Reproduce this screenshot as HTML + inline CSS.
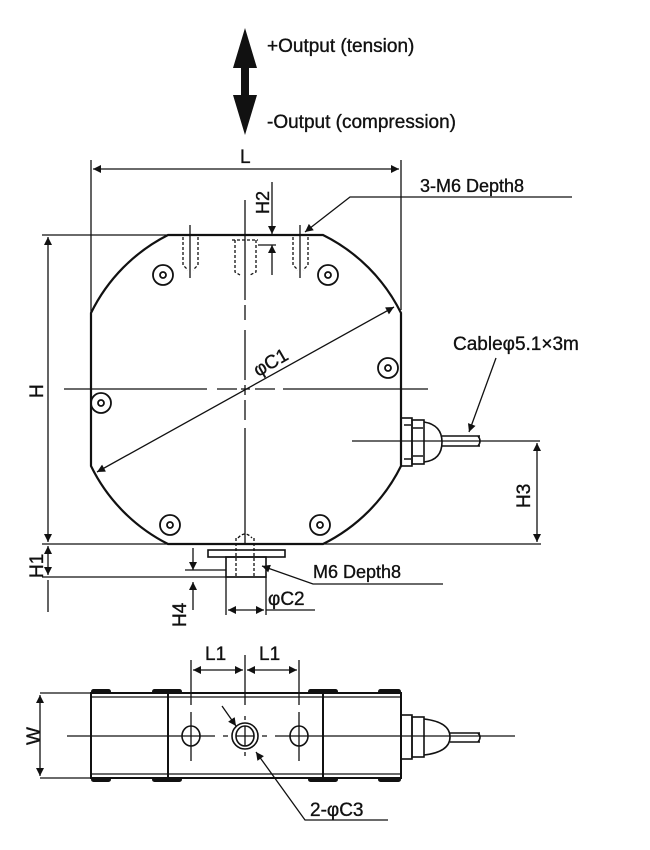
<!DOCTYPE html>
<html><head><meta charset="utf-8"><style>
html,body{margin:0;padding:0;background:#fff}
svg{display:block}
text{font-family:"Liberation Sans",sans-serif;fill:#111;stroke:#111;stroke-width:0.35}
</style></head><body>
<svg width="650" height="850" viewBox="0 0 650 850" xmlns="http://www.w3.org/2000/svg">
<defs>
<marker id="a" viewBox="0 0 10 10" refX="10" refY="5" markerWidth="15" markerHeight="8" orient="auto-start-reverse" markerUnits="userSpaceOnUse"><path d="M0,0 L10,5 L0,10 z" fill="#111"/></marker>
</defs>
<g stroke="#111" fill="none" stroke-width="1.3">
<path d="M245,28 L257,68 L249,68 L249,95 L257,95 L245,135 L233,95 L241,95 L241,68 L233,68 Z" fill="#111" stroke="none"/>
<line x1="91" y1="160" x2="91" y2="313"/>
<line x1="401" y1="160" x2="401" y2="310"/>
<line x1="93" y1="169" x2="399" y2="169" marker-start="url(#a)" marker-end="url(#a)"/>
<path d="M168,235 L323,235 A172,172 0 0 1 401,313 L401,466 A172,172 0 0 1 323,544 L168,544 A172,172 0 0 1 91,466 L91,313 A172,172 0 0 1 168,235 Z" stroke-width="2.2"/>
<path d="M64,389 H207 M217,389 H237 M241,389 H250 M255,389 H275 M283,389 H428"/>
<path d="M245,200 V300 M245,305 V320 M245,330 V380 M245,385 V395 M245,400 V420 M245,428 V545"/>
<line x1="97" y1="472" x2="394" y2="307" marker-start="url(#a)" marker-end="url(#a)"/>
<g stroke-width="1.8">
<circle cx="163" cy="275" r="10"/><circle cx="163" cy="275" r="3"/>
<circle cx="328" cy="275" r="10"/><circle cx="328" cy="275" r="3"/>
<circle cx="388" cy="368" r="10"/><circle cx="388" cy="368" r="3"/>
<circle cx="101" cy="403" r="10"/><circle cx="101" cy="403" r="3"/>
<circle cx="170" cy="525" r="10"/><circle cx="170" cy="525" r="3"/>
<circle cx="320" cy="525" r="10"/><circle cx="320" cy="525" r="3"/>
</g>
<g stroke-dasharray="3,2">
<path d="M183,237 V265 L188,270 M198,237 V265 L193,270"/>
<path d="M235,240 V272 L240,275 M256,240 V272 L250,275 M232,240 H258"/>
<path d="M293,237 V265 L298,270 M308,237 V265 L303,270"/>
</g>
<line x1="190" y1="225" x2="190" y2="278"/>
<line x1="300" y1="225" x2="300" y2="278"/>
<line x1="272" y1="182" x2="272" y2="234" marker-end="url(#a)"/>
<line x1="272" y1="275" x2="272" y2="245" marker-end="url(#a)"/>
<line x1="258" y1="245" x2="276" y2="245"/>
<polyline points="572,197 350,197 305,232" marker-end="url(#a)" fill="none"/>
<line x1="42" y1="235" x2="168" y2="235"/>
<line x1="48" y1="237" x2="48" y2="542" marker-start="url(#a)" marker-end="url(#a)"/>
<g stroke-width="1.6">
<rect x="401" y="418" width="11" height="48"/>
<rect x="412" y="420" width="12" height="44"/>
<path d="M424,422 Q442,425 442,442 Q442,460 424,462"/>
<path d="M404,425 H411 M404,459 H411 M413,428 H423 M413,456 H423"/>
<path d="M442,436 H480 M442,446 H480 M478,436 Q482,441 478,446"/>
</g>
<line x1="352" y1="441" x2="540" y2="441"/>
<line x1="496" y1="358" x2="469" y2="432" marker-end="url(#a)"/>
<line x1="537" y1="443" x2="537" y2="542" marker-start="url(#a)" marker-end="url(#a)"/>
<line x1="323" y1="544" x2="541" y2="544"/>
<line x1="42" y1="544" x2="168" y2="544"/>
<rect x="208" y="550" width="77" height="7" stroke-width="1.6"/>
<rect x="226" y="557" width="40" height="20" stroke-width="1.6"/>
<g stroke-dasharray="3,2"><path d="M236,538 V577 M254,538 V577 M238,538 Q245,530 252,538"/></g>
<line x1="42" y1="577" x2="266" y2="577"/>
<line x1="48" y1="546" x2="48" y2="575" marker-start="url(#a)" marker-end="url(#a)"/>
<line x1="48" y1="580" x2="48" y2="612"/>
<line x1="193" y1="548" x2="193" y2="570" marker-end="url(#a)"/>
<line x1="193" y1="610" x2="193" y2="582" marker-end="url(#a)"/>
<line x1="185" y1="570" x2="226" y2="570"/>
<polyline points="443,584 313,584 262,566" marker-end="url(#a)" fill="none"/>
<line x1="226" y1="577" x2="226" y2="615"/>
<line x1="266" y1="577" x2="266" y2="615"/>
<line x1="228" y1="610" x2="264" y2="610" marker-start="url(#a)" marker-end="url(#a)"/>
<line x1="266" y1="610" x2="315" y2="610"/>

<line x1="191" y1="660" x2="191" y2="705"/>
<line x1="245" y1="655" x2="245" y2="705"/>
<line x1="299" y1="660" x2="299" y2="705"/>
<line x1="193" y1="670" x2="243" y2="670" marker-start="url(#a)" marker-end="url(#a)"/>
<line x1="247" y1="670" x2="297" y2="670" marker-start="url(#a)" marker-end="url(#a)"/>
<line x1="40" y1="693" x2="91" y2="693"/>
<line x1="40" y1="778" x2="91" y2="778"/>
<line x1="40" y1="695" x2="40" y2="776" marker-start="url(#a)" marker-end="url(#a)"/>
<g stroke-width="2">
<rect x="91" y="693" width="310" height="85"/>
<line x1="168" y1="693" x2="168" y2="778"/>
<line x1="323" y1="693" x2="323" y2="778"/>
</g>
<path d="M91,697 H401 M91,774 H401"/>
<g fill="#111" stroke="none">
<rect x="91" y="689" width="20" height="5" rx="2.5"/><rect x="152" y="689" width="30" height="5" rx="2.5"/>
<rect x="308" y="689" width="30" height="5" rx="2.5"/><rect x="378" y="689" width="23" height="5" rx="2.5"/>
<rect x="91" y="777" width="20" height="5" rx="2.5"/><rect x="152" y="777" width="30" height="5" rx="2.5"/>
<rect x="308" y="777" width="30" height="5" rx="2.5"/><rect x="378" y="777" width="23" height="5" rx="2.5"/>
</g>
<path d="M67,736 H215 M223,736 H228 M262,736 H267 M275,736 H515"/>
<ellipse cx="191" cy="736" rx="9" ry="10" stroke-width="1.6"/>
<ellipse cx="299" cy="736" rx="9" ry="10" stroke-width="1.6"/>
<line x1="191" y1="712" x2="191" y2="761"/>
<line x1="299" y1="712" x2="299" y2="761"/>
<ellipse cx="245" cy="736" rx="13" ry="13" stroke-width="1.6"/>
<ellipse cx="245" cy="736" rx="9" ry="10" stroke-width="1.6"/>
<path d="M245,716 V720 M245,726 V746 M245,752 V756 M236,736 H254"/>
<g stroke-width="1.6">
<rect x="401" y="715" width="11" height="44"/>
<rect x="412" y="717" width="12" height="40"/>
<path d="M424,719 Q450,722 450,737 Q450,752 424,755"/>
<path d="M450,733 H480 M450,742 H480 M478,733 Q482,737 478,742"/>
</g>
<line x1="222" y1="706" x2="236" y2="726" marker-end="url(#a)"/>
<polyline points="388,820 305,820 256,752" marker-end="url(#a)" fill="none"/>
</g>
<text x="267" y="52" font-size="19">+Output (tension)</text>
<text x="267" y="128" font-size="19">-Output (compression)</text>
<text x="240" y="163" font-size="19">L</text>
<text x="420" y="192" font-size="18">3-M6 Depth8</text>
<text x="269" y="214" font-size="18" transform="rotate(-90 269 214)">H2</text>
<text x="258" y="377" font-size="19" transform="rotate(-30 258 377)">φC1</text>
<text x="43" y="398" font-size="19" transform="rotate(-90 43 398)">H</text>
<text x="453" y="350" font-size="19">Cableφ5.1×3m</text>
<text x="530" y="508" font-size="19" transform="rotate(-90 530 508)">H3</text>
<text x="43" y="578" font-size="19" transform="rotate(-90 43 578)">H1</text>
<text x="186" y="627" font-size="19" transform="rotate(-90 186 627)">H4</text>
<text x="313" y="578" font-size="18">M6 Depth8</text>
<text x="268" y="605" font-size="19">φC2</text>
<text x="205" y="660" font-size="19">L1</text>
<text x="259" y="660" font-size="19">L1</text>
<text x="40" y="745" font-size="19" transform="rotate(-90 40 745)">W</text>
<text x="310" y="816" font-size="19">2-φC3</text>
</svg>
</body></html>
